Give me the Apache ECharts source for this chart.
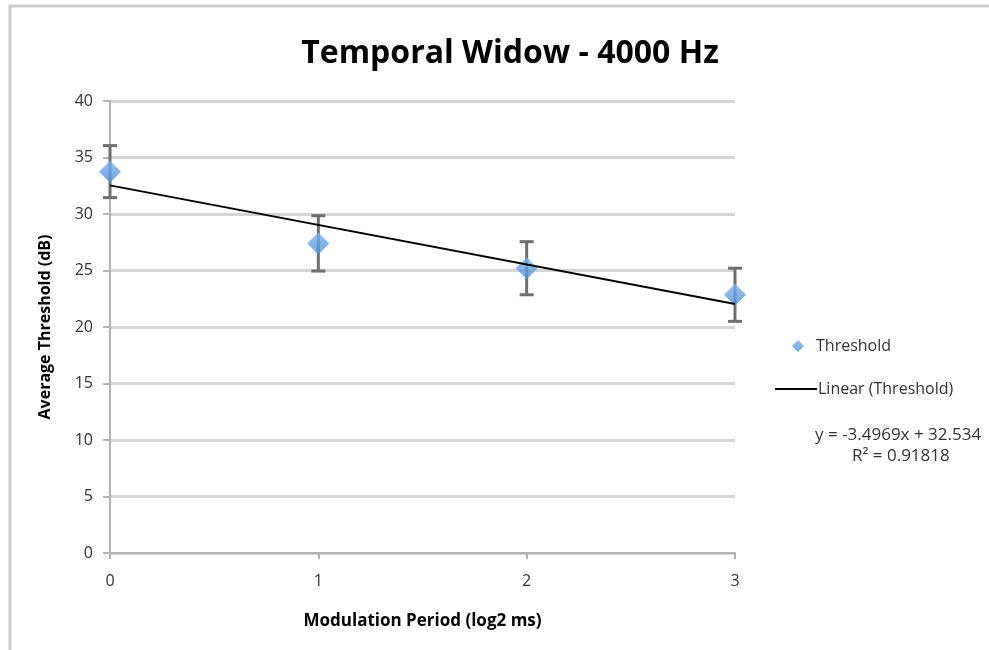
<!DOCTYPE html>
<html><head><meta charset="utf-8">
<script src="https://cdn.jsdelivr.net/npm/echarts@6/dist/echarts.min.js"></script>
<style>html,body{margin:0;padding:0;background:#fff}#c{width:989px;height:650px}</style>
</head><body><div id="c"></div>
<script>
const periods = [0, 1, 2, 3];
const thresholds = [33.75, 27.4, 25.2, 22.85];
const errors = [2.3, 2.45, 2.35, 2.35];
const trendX = [0, 3];
const trendY = [32.534, 22.043];
const yTicks = [0, 5, 10, 15, 20, 25, 30, 35, 40];
const equationText = 'y = -3.4969x + 32.534';
const r2Text = 'R² = 0.91818';

const FONT = '"Open Sans", sans-serif';
const chart = echarts.init(document.getElementById('c'));
const errData = periods.map((p, i) => [p, thresholds[i] - errors[i], thresholds[i] + errors[i]]);

chart.setOption({
  animation: false,
  backgroundColor: '#fff',
  title: {
    text: 'Temporal Widow - 4000 Hz', left: 505, top: 33, textAlign: 'center',
    textStyle: { fontFamily: FONT, fontWeight: 'bold', fontSize: 32, color: '#000' }
  },
  grid: { left: 110, right: 254, top: 101, bottom: 97 },
  xAxis: {
    type: 'value', min: 0, max: 3, interval: 1,
    name: 'Modulation Period (log2 ms)', nameLocation: 'middle', nameGap: 60,
    nameTextStyle: { fontFamily: FONT, fontWeight: 'bold', fontSize: 17, color: '#000' },
    axisLine: { show: true, lineStyle: { color: '#b3b3b3', width: 2 } },
    axisTick: { show: true, length: 6, lineStyle: { color: '#b3b3b3', width: 2 } },
    axisLabel: { fontFamily: FONT, fontSize: 16, color: '#333', margin: 20 },
    splitLine: { show: false }
  },
  yAxis: {
    type: 'value', min: 0, max: 40, interval: 5,
    name: 'Average Threshold (dB)', nameLocation: 'middle', nameGap: 57, nameRotate: 90,
    nameTextStyle: { fontFamily: FONT, fontWeight: 'bold', fontSize: 16, color: '#000' },
    axisLine: { show: true, lineStyle: { color: '#b3b3b3', width: 2 } },
    axisTick: { show: true, length: 7, lineStyle: { color: '#b3b3b3', width: 2 } },
    axisLabel: { fontFamily: FONT, fontSize: 16, color: '#333', margin: 17,
      formatter: v => yTicks.includes(v) ? String(v) : '' },
    splitLine: { show: true, lineStyle: { color: '#d4d4d4', width: 3 } }
  },
  legend: [
    { data: [{ name: 'Threshold', icon: 'diamond' }], orient: 'vertical', left: 787, top: 333,
      itemWidth: 12, itemHeight: 12, itemGap: 8,
      textStyle: { fontFamily: FONT, fontSize: 16, color: '#333', padding: [0, 0, 0, 7] } },
    { data: [{ name: 'Linear (Threshold)', icon: 'rect', itemStyle: { color: '#000' } }],
      orient: 'vertical', left: 770, top: 376,
      itemWidth: 42, itemHeight: 2, itemGap: 2,
      textStyle: { fontFamily: FONT, fontSize: 16, color: '#333', padding: [0, 0, 0, -4] } }
  ],
  graphic: [
    { type: 'rect', shape: { x: 10, y: 6, width: 1000, height: 700 }, silent: true,
      style: { fill: 'none', stroke: '#cbcbcb', lineWidth: 3 }, z: -10 },
    { type: 'text', left: 815, top: 427, style: { text: equationText, fontFamily: FONT, fontSize: 17, fill: '#333' } },
    { type: 'text', left: 852, top: 448, style: { text: r2Text, fontFamily: FONT, fontSize: 17, fill: '#333' } }
  ],
  series: [
    {
      name: 'err', type: 'custom', data: errData, z: 3,
      renderItem: (params, api) => {
        const x = api.value(0);
        const lo = api.coord([x, api.value(1)]);
        const hi = api.coord([x, api.value(2)]);
        const w = 7;
        const st = { stroke: '#6e6e6e', lineWidth: 3 };
        return { type: 'group', children: [
          { type: 'line', shape: { x1: lo[0], y1: lo[1], x2: hi[0], y2: hi[1] }, style: st },
          { type: 'line', shape: { x1: lo[0] - w, y1: lo[1], x2: lo[0] + w, y2: lo[1] }, style: st },
          { type: 'line', shape: { x1: hi[0] - w, y1: hi[1], x2: hi[0] + w, y2: hi[1] }, style: st }
        ]};
      },
      encode: { x: 0, y: [1, 2] }
    },
    {
      name: 'Threshold', type: 'scatter', symbol: 'diamond', symbolSize: 22, z: 4,
      data: periods.map((p, i) => [p, thresholds[i]]),
      itemStyle: { color: new echarts.graphic.LinearGradient(0, 0, 0, 1, [
        { offset: 0, color: '#7cb4ef' }, { offset: 1, color: '#4f8fd8' }]) }
    },
    {
      name: 'Linear (Threshold)', type: 'line', showSymbol: false, symbol: 'none', z: 5,
      data: trendX.map((x, i) => [x, trendY[i]]),
      lineStyle: { color: '#000', width: 2 }, itemStyle: { color: '#000' }
    }
  ]
});
</script></body></html>
